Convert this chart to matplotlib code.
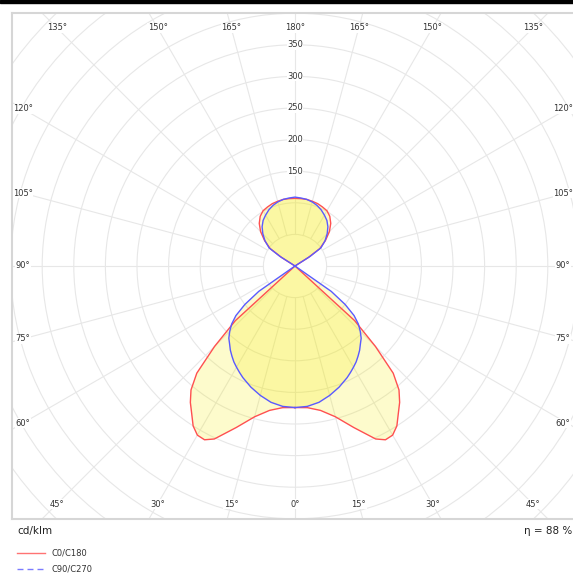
import numpy as np
import matplotlib.pyplot as plt
from matplotlib.patches import Circle, Rectangle
from matplotlib.lines import Line2D

# luminous intensity distribution (cd/klm), gamma measured from nadir
gamma = [0, 5, 10, 15, 20, 25, 27.5, 30, 32.5, 35, 37.5, 40, 42.5, 45, 47.5,
         50, 52.5, 55, 57.5, 60, 90, 120, 122.5, 125, 130, 135, 140, 145,
         150, 155, 160, 165, 170, 175, 180]
c0_c180 = [224, 225, 232, 247, 272, 302, 310, 309, 300, 285, 272, 256, 230, 180, 128,
           0, 0, 0, 0, 0, 0, 0, 25, 48, 63, 77, 88, 96,
           101, 103, 105, 106, 107, 107, 107]
c90_c270 = [224, 223, 219, 212, 204, 195, 190, 185, 180, 174, 168, 161, 155, 146, 136,
            122, 100, 70, 0, 0, 0, 0, 28, 50, 62, 72, 81, 88,
            93, 98, 102, 105, 107, 108, 109]
ring_labels = [150, 200, 250, 300, 350]
angle_labels = [0, 15, 30, 45, 60, 75, 90, 105, 120, 135, 150, 165, 180]
eta = 88

W, H = 573, 574
red = '#ff5050'
blue = '#5a5aff'
grid_col = '#e7e7e7'

fig = plt.figure(figsize=(W / 100, H / 100), dpi=100)
ax = fig.add_axes([12 / W, (H - 519) / H, 566 / W, 506 / H])
px = 0.632  # pixels per cd/klm
ax.set_xlim(-283 / px, 283 / px)
ax.set_ylim(-253 / px, 253 / px)
ax.set_xticks([])
ax.set_yticks([])
for s in ax.spines.values():
    s.set_color('#d6d6d6')
    s.set_linewidth(1.5)

# grid: rings every 50 and rays every 15 degrees
for r in range(50, 700, 50):
    ax.add_patch(Circle((0, 0), r, fill=False, ec=grid_col, lw=0.8, zorder=1))
for a in np.radians(np.arange(0, 360, 15)):
    ax.plot([50 * np.sin(a), 900 * np.sin(a)], [-50 * np.cos(a), -900 * np.cos(a)],
            color=grid_col, lw=0.8, zorder=1)


def to_xy(g, r):
    # right half is C0 / C90, left half mirrored (C180 / C270)
    g = np.asarray(g, float)
    r = np.asarray(r, float)
    t = np.radians(np.concatenate([g, 360 - g[::-1]]))
    rr = np.concatenate([r, r[::-1]])
    return rr * np.sin(t), -rr * np.cos(t)


fill_col = '#f5eb00'
for vals in (c0_c180, c90_c270):
    x, y = to_xy(gamma, vals)
    ax.fill(x, y, color=fill_col, alpha=0.2, lw=0, zorder=2)
x, y = to_xy(gamma, c0_c180)
ax.plot(x, y, color=red, lw=1.0, zorder=3)
x, y = to_xy(gamma, c90_c270)
ax.plot(x, y, color=blue, lw=1.0, zorder=4)

lab = dict(fontsize=6, color='#333333', ha='center', va='center', zorder=5,
           bbox=dict(facecolor='white', edgecolor='none', pad=0.3))
for r in ring_labels:
    ax.text(0, r, str(r), **lab)

half_w = 272 / px
half_h = 238 / px
for g in angle_labels:
    t = np.radians(g)
    for side in (1, -1):
        if side == -1 and g in (0, 180):
            continue
        dx, dy = side * np.sin(t), -np.cos(t)
        k = min(half_w / abs(dx) if abs(dx) > 1e-9 else np.inf,
                half_h / abs(dy) if abs(dy) > 1e-9 else np.inf)
        lx, ly = k * dx, k * dy
        if lx > half_w - 1:
            lx -= 4 / px  # keep the right column on the canvas
        ax.text(lx, ly, f'{g}°', **lab)

fig.text(17 / W, 1 - 531 / H, 'cd/klm', fontsize=7.5, va='center', color='#222222')
fig.text(572 / W, 1 - 531 / H, f'η = {eta} %', fontsize=7.5, va='center', ha='right',
         color='#222222')

# legend
fig.add_artist(Line2D([17 / W, 45 / W], [1 - 553 / H] * 2, color=red, lw=1.0, alpha=0.8))
fig.add_artist(Line2D([17 / W, 45 / W], [1 - 569 / H] * 2, color=blue, lw=1.0, alpha=0.8,
                      dashes=(4.3, 2.9)))
fig.text(51 / W, 1 - 553 / H, 'C0/C180', fontsize=6, va='center', color='#333333')
fig.text(51 / W, 1 - 569 / H, 'C90/C270', fontsize=6, va='center', color='#333333')

fig.add_artist(Rectangle((0, 1 - 3 / H), 1, 3 / H, transform=fig.transFigure,
                         color='black'))

fig.savefig('out.png', dpi=100)
